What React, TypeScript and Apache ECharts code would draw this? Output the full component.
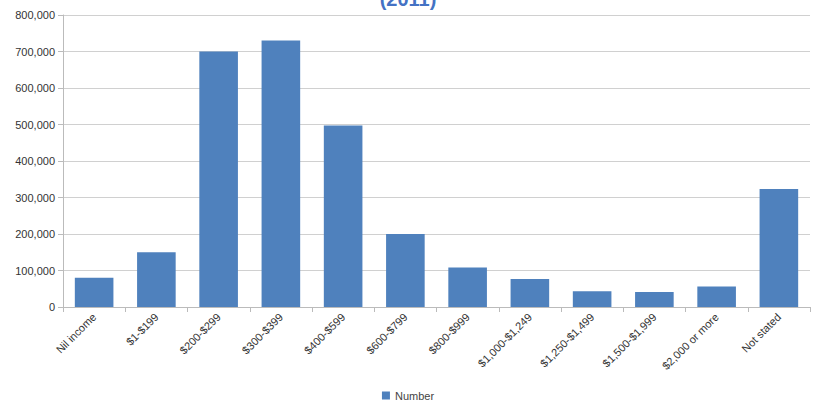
import { useEffect, useRef } from 'react'
import * as echarts from 'echarts'

const categories = [
  'Nil income', '$1-$199', '$200-$299', '$300-$399', '$400-$599', '$600-$799',
  '$800-$999', '$1,000-$1,249', '$1,250-$1,499', '$1,500-$1,999', '$2,000 or more', 'Not stated',
]
const numbers = [80000, 150000, 700000, 730000, 497000, 200000, 108000, 77000, 43000, 41000, 56000, 323000]

export default function App() {
  const chartRef = useRef<HTMLDivElement>(null)

  useEffect(() => {
    if (!chartRef.current) return
    document.body.style.margin = '0'
    const chart = echarts.init(chartRef.current, null, { renderer: 'svg' })
    chart.setOption({
      animation: false,
      textStyle: { fontFamily: 'Liberation Sans' },
      title: {
        text: '(2011)',
        left: 'center',
        top: -16,
        textStyle: { color: '#4472C4', fontSize: 20, fontWeight: 'bold' },
      },
      legend: {
        bottom: 0,
        icon: 'rect',
        itemWidth: 8,
        itemHeight: 8,
        itemGap: 4,
        textStyle: { fontSize: 11, color: '#444' },
        data: ['Number'],
      },
      grid: { left: 63, right: 6, top: 15, bottom: 99 },
      xAxis: {
        type: 'category',
        data: categories,
        axisLine: { lineStyle: { color: '#bbb' } },
        axisTick: { show: true, lineStyle: { color: '#bbb' } },
        axisLabel: { rotate: 45, interval: 0, fontSize: 11, color: '#333' },
      },
      yAxis: {
        type: 'value',
        min: 0,
        max: 800000,
        interval: 100000,
        axisLine: { show: true, lineStyle: { color: '#bbb' } },
        axisTick: { show: true, lineStyle: { color: '#bbb' } },
        splitLine: { lineStyle: { color: '#d0d0d0' } },
        axisLabel: {
          fontSize: 11,
          color: '#333',
          formatter: (v: number) => v.toLocaleString('en-US'),
        },
      },
      series: [
        {
          name: 'Number',
          type: 'bar',
          data: numbers,
          barWidth: '62%',
          itemStyle: { color: '#4F81BD' },
        },
      ],
    })
    return () => {
      chart.dispose()
    }
  }, [])

  return <div ref={chartRef} style={{ width: 816, height: 406 }} />
}
